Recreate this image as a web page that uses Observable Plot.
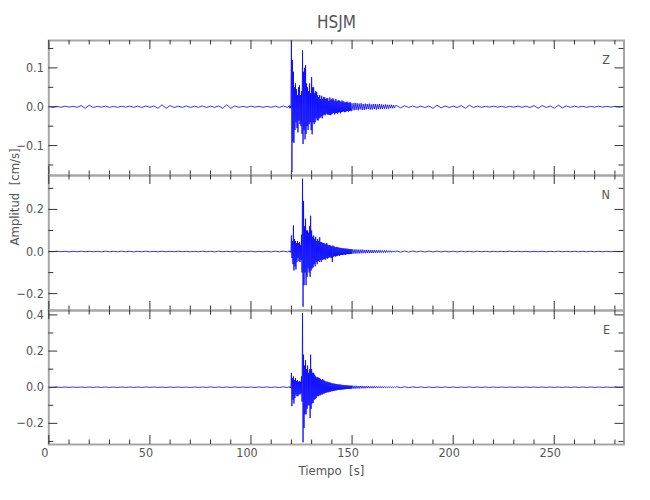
<!DOCTYPE html>
<html>
<head>
<meta charset="utf-8">
<script src="https://cdn.jsdelivr.net/npm/d3@7"></script>
<script src="https://cdn.jsdelivr.net/npm/@observablehq/plot@0.6"></script>
<style>
  html, body { margin: 0; padding: 0; background: #fff; }
  #chart { position: relative; width: 650px; height: 500px; overflow: hidden; }
  #chart svg { position: absolute; left: 0; top: 0; }
</style>
</head>
<body>
<div id="chart"></div>
<script>
// ---- Data (cm/s) ----
const stationName = "HSJM";
const componentNames = ["Z", "N", "E"];
// sampling of the traces (s)
const preTimes = d3.range(0, 119, 2);                 // 0 .. 118
const strongTimes = d3.range(119, 150, 0.25);         // 119 .. 149.75
const codaTimes = d3.range(150, 172, 0.5);            // 150 .. 171.5
const postTimes = d3.range(172, 285, 2);              // 172 .. 284

const zPre = [
  0.0015, -0.002, 0.001, -0.0015, 0.0015, -0.001, 0.001, -0.0015, 0.003, -0.004,
  0.004, -0.002, 0.001, -0.001, 0.0015, -0.0015, 0.001, -0.0015, 0.001, -0.001,
  0.0015, -0.0015, 0.0015, -0.002, 0.002, -0.0015, 0.002, -0.004, 0.005, -0.004,
  0.003, -0.002, 0.0015, -0.0015, 0.002, -0.002, 0.0015, -0.0015, 0.002, -0.002,
  0.0015, -0.0015, 0.002, -0.004, 0.005, -0.004, 0.002, -0.0015, 0.001, -0.0015,
  0.0015, -0.001, 0.001, -0.0015, 0.001, -0.0015, 0.0015, -0.002, 0.002, -0.002
];
const zStrong = [
  0.003, -0.004, 0.002, -0.003,   0.17, -0.168, 0.12, -0.09,   0.09, -0.093, 0.05, -0.06,
  0.06, -0.04, 0.045, -0.055,     0.03, -0.066, 0.05, -0.035,   0.055, -0.045, 0.03, -0.05,
  0.04, -0.07, 0.145, -0.096,     0.09, -0.06, 0.1, -0.084,     0.107, -0.07, 0.06, -0.05,
  0.05, -0.06, 0.04, -0.045,      0.06, -0.04, 0.035, -0.06,    0.076, -0.071, 0.05, -0.04,
  0.05, -0.045, 0.035, -0.04,     0.04, -0.03, 0.038, -0.035,   0.03, -0.035, 0.025, -0.03,
  0.03, -0.028, 0.02, -0.025,     0.028, -0.03, 0.02, -0.022,   0.025, -0.02, 0.024, -0.022,
  0.02, -0.018, 0.022, -0.02,     0.022, -0.02, 0.015, -0.021,  0.024, -0.022, 0.018, -0.02,
  0.02, -0.018, 0.022, -0.016,    0.018, -0.02, 0.015, -0.017,  0.02, -0.016, 0.014, -0.018,
  0.016, -0.015, 0.017, -0.014,   0.015, -0.017, 0.012, -0.014, 0.016, -0.013, 0.014, -0.012,
  0.013, -0.014, 0.011, -0.013,   0.012, -0.012, 0.013, -0.011, 0.011, -0.013, 0.01, -0.011,
  0.012, -0.01, 0.009, -0.011
];
const zCoda = [
  -0.01, 0.009, -0.009, 0.01, -0.008, 0.009, -0.009, 0.008, -0.007, 0.009,
  -0.008, 0.007, -0.008, 0.008, -0.007, 0.007, -0.006, 0.008, -0.007, 0.006,
  -0.007, 0.007, -0.006, 0.007, -0.007, 0.006, -0.006, 0.007, -0.006, 0.006,
  -0.006, 0.005, -0.005, 0.006, -0.005, 0.005, -0.005, 0.005, -0.004, 0.005,
  -0.004, 0.004, -0.003, 0.003
];
const zPost = [
  0.003, -0.003, 0.0025, -0.002, 0.002, -0.002, 0.0015, -0.002, 0.002, -0.004,
  0.004, -0.003, 0.002, -0.002, 0.0015, -0.002, 0.003, -0.004, 0.004, -0.002,
  0.0015, -0.0015, 0.001, -0.001, 0.0015, -0.001, 0.001, -0.0015, 0.001, -0.001,
  0.0015, -0.0015, 0.0015, -0.002, 0.003, -0.004, 0.003, -0.002, 0.002, -0.004,
  0.004, -0.003, 0.002, -0.0015, 0.0015, -0.001, 0.001, -0.0015, 0.001, -0.001,
  0.0015, -0.001, 0.001, -0.001, 0.001, -0.001, 0.001
];

const nPre = [
  0.001, -0.001, 0.0015, -0.001, 0.001, -0.0015, 0.001, -0.001, 0.0015, -0.001,
  0.001, -0.001, 0.001, -0.0015, 0.0015, -0.001, 0.001, -0.001, 0.0015, -0.001,
  0.001, -0.0015, 0.001, -0.001, 0.0015, -0.0015, 0.001, -0.0015, 0.0015, -0.001,
  0.001, -0.001, 0.0015, -0.001, 0.001, -0.0015, 0.001, -0.001, 0.0015, -0.001,
  0.001, -0.0015, 0.0015, -0.001, 0.001, -0.001, 0.0015, -0.0015, 0.001, -0.001,
  0.0015, -0.0015, 0.001, -0.0015, 0.0015, -0.002, 0.002, -0.0015, 0.002, -0.002
];
const nStrong = [
  0.003, -0.003, 0.002, -0.004,   0.076, -0.03, 0.05, -0.06,    0.124, -0.09, 0.06, -0.07,
  0.05, -0.085, 0.04, -0.05,      0.05, -0.03, 0.04, -0.045,    0.045, -0.05, 0.03, -0.04,
  0.08, -0.1, 0.346, -0.262,      0.24, -0.16, 0.12, -0.1,      0.156, -0.16, 0.1, -0.12,
  0.1, -0.08, 0.09, -0.1,         0.12, -0.12, 0.17, -0.09,     0.1, -0.08, 0.07, -0.075,
  0.076, -0.06, 0.06, -0.07,      0.07, -0.05, 0.05, -0.06,     0.06, -0.045, 0.05, -0.05,
  0.068, -0.04, 0.045, -0.05,     0.045, -0.04, 0.04, -0.038,   0.04, -0.035, 0.038, -0.04,
  0.035, -0.03, 0.04, -0.035,     0.032, -0.03, 0.03, -0.028,   0.03, -0.028, 0.028, -0.03,
  0.025, -0.05, 0.028, -0.025,    0.025, -0.022, 0.022, -0.024, 0.02, -0.022, 0.022, -0.02,
  0.02, -0.018, 0.018, -0.02,     0.018, -0.017, 0.017, -0.016, 0.016, -0.016, 0.015, -0.015,
  0.015, -0.014, 0.014, -0.015,   0.014, -0.013, 0.013, -0.012, 0.013, -0.012, 0.012, -0.012,
  0.012, -0.011, 0.011, -0.011
];
const nCoda = [
  0.011, -0.01, 0.01, -0.01, 0.01, -0.009, 0.009, -0.009, 0.009, -0.008,
  0.009, -0.008, 0.008, -0.008, 0.008, -0.007, 0.008, -0.007, 0.007, -0.007,
  0.007, -0.007, 0.007, -0.006, 0.006, -0.006, 0.006, -0.006, 0.006, -0.005,
  0.005, -0.005, 0.005, -0.005, 0.005, -0.004, 0.004, -0.004, 0.004, -0.004,
  0.003, -0.003, 0.003, -0.003
];
const nPost = [
  0.003, -0.003, 0.0025, -0.003, 0.0025, -0.002, 0.002, -0.002, 0.002, -0.002,
  0.002, -0.002, 0.0015, -0.0015, 0.0015, -0.0015, 0.0015, -0.0015, 0.001, -0.0015,
  0.0015, -0.001, 0.001, -0.0015, 0.001, -0.001, 0.001, -0.001, 0.0015, -0.001,
  0.001, -0.001, 0.001, -0.0015, 0.001, -0.001, 0.001, -0.001, 0.001, -0.001,
  0.0015, -0.001, 0.001, -0.001, 0.001, -0.001, 0.001, -0.001, 0.001, -0.001,
  0.001, -0.001, 0.001, -0.001, 0.001, -0.001, 0.001
];

const ePre = [
  -0.003, -0.0015, 0.001, -0.001, 0.001, -0.001, 0.001, -0.001, 0.001, -0.001,
  0.001, -0.001, 0.0015, -0.001, 0.001, -0.001, 0.001, -0.0015, 0.001, -0.001,
  0.001, -0.001, 0.001, -0.001, 0.0015, -0.001, 0.001, -0.001, 0.001, -0.0015,
  0.001, -0.001, 0.001, -0.001, 0.001, -0.0015, 0.001, -0.001, 0.001, -0.001,
  0.0015, -0.001, 0.001, -0.001, 0.001, -0.001, 0.0015, -0.001, 0.001, -0.001,
  0.001, -0.0015, 0.0015, -0.001, 0.0015, -0.0015, 0.0015, -0.002, 0.002, -0.002
];
const eStrong = [
  0.003, -0.003, 0.002, -0.004,   0.079, -0.105, 0.05, -0.07,   0.06, -0.09, 0.04, -0.06,
  0.05, -0.04, 0.035, -0.05,      0.04, -0.05, 0.03, -0.04,     0.035, -0.04, 0.03, -0.035,
  0.06, -0.08, 0.41, -0.305,      0.18, -0.226, 0.12, -0.15,    0.15, -0.15, 0.1, -0.12,
  0.12, -0.1, 0.08, -0.1,         0.1, -0.17, 0.18, -0.12,      0.1, -0.09, 0.08, -0.087,
  0.079, -0.07, 0.07, -0.065,     0.06, -0.06, 0.055, -0.05,    0.055, -0.05, 0.052, -0.045,
  0.05, -0.045, 0.045, -0.04,     0.04, -0.04, 0.045, -0.035,   0.038, -0.035, 0.035, -0.032,
  0.032, -0.03, 0.03, -0.028,     0.03, -0.028, 0.028, -0.025,  0.026, -0.025, 0.024, -0.022,
  0.022, -0.022, 0.021, -0.02,    0.02, -0.019, 0.019, -0.018,  0.018, -0.017, 0.017, -0.016,
  0.016, -0.015, 0.015, -0.014,   0.015, -0.014, 0.014, -0.013, 0.013, -0.013, 0.012, -0.012,
  0.012, -0.011, 0.011, -0.011,   0.011, -0.01, 0.01, -0.01,    0.01, -0.009, 0.009, -0.009,
  0.009, -0.009, 0.008, -0.008
];
const eCoda = [
  0.009, -0.008, 0.008, -0.008, 0.008, -0.007, 0.007, -0.007, 0.007, -0.006,
  0.007, -0.006, 0.006, -0.006, 0.006, -0.005, 0.006, -0.005, 0.005, -0.005,
  0.005, -0.005, 0.005, -0.004, 0.004, -0.004, 0.004, -0.004, 0.004, -0.004,
  0.004, -0.003, 0.003, -0.003, 0.003, -0.003, 0.003, -0.003, 0.003, -0.003,
  0.002, -0.002, 0.002, -0.002
];
const ePost = [
  0.003, -0.0025, 0.0025, -0.0025, 0.002, -0.002, 0.002, -0.002, 0.0015, -0.002,
  0.0015, -0.0015, 0.0015, -0.0015, 0.0015, -0.0015, 0.001, -0.001, 0.0015, -0.001,
  0.001, -0.001, 0.001, -0.001, 0.001, -0.001, 0.001, -0.001, 0.001, -0.001,
  0.001, -0.001, 0.001, -0.001, 0.001, -0.001, 0.001, -0.001, 0.001, -0.001,
  0.001, -0.001, 0.001, -0.001, 0.001, -0.001, 0.001, -0.001, 0.001, -0.001,
  0.001, -0.001, 0.001, -0.001, 0.001, -0.001, 0.001
];

// axis domains and tick values
const timeDomain = [0, 284.5];
const timeMajorTicks = [0, 50, 100, 150, 200, 250];
const timeMinorTicks = [10, 20, 30, 40, 60, 70, 80, 90, 110, 120, 130, 140, 160, 170, 180, 190, 210, 220, 230, 240, 260, 270, 280];
const zDomain = [-0.177, 0.1705];
const nDomain = [-0.28, 0.361];
const eDomain = [-0.317, 0.4245];
const zMajor = [-0.1, 0.0, 0.1], zMinor = [-0.15, -0.05, 0.05, 0.15];
const nMajor = [-0.2, 0.0, 0.2], nMinor = [-0.1, 0.1, 0.3];
const eMajor = [-0.2, 0.0, 0.2, 0.4], eMinor = [-0.3, -0.1, 0.1, 0.3];

// ---- Build ----
const allTimes = [...preTimes, ...strongTimes, ...codaTimes, ...postTimes];
function rows(...parts) {
  const vals = parts.flat();
  const n = Math.min(vals.length, allTimes.length);
  return d3.range(n).map(i => ({t: allTimes[i], v: vals[i]}));
}
const traces = [
  rows(zPre, zStrong, zCoda, zPost),
  rows(nPre, nStrong, nCoda, nPost),
  rows(ePre, eStrong, eCoda, ePost)
];
const domains = [zDomain, nDomain, eDomain];
const majors = [zMajor, nMajor, eMajor];
const minors = [zMinor, nMinor, eMinor];

const W = 650, H = 500, mL = 48.3, mR = 26.5;
const panelTop = [40, 175, 310], panelBottom = [175, 310, 444];
const font = '"Liberation Sans Narrow", "DejaVu Sans Condensed", "Arial Narrow", sans-serif';
const textColor = "#555";
const tickColor = "#333";
const fmt = d => (d < 0 ? "\u2212" : "") + Math.abs(d).toFixed(1);
const plotW = W - mL - mR;

const chart = document.getElementById("chart");
for (let p = 0; p < 3; p++) {
  const plotH = panelBottom[p] - panelTop[p];
  const marks = [
    Plot.line(traces[p], {x: "t", y: "v", stroke: "#0000ff", strokeWidth: 0.8, clip: true}),
    Plot.frame({stroke: "#a6a6a6", strokeWidth: 2}),
    // y ticks, left & right, inward
    Plot.tickY(majors[p], {y: d => d, insetRight: plotW - 9, stroke: tickColor}),
    Plot.tickY(minors[p], {y: d => d, insetRight: plotW - 5, stroke: tickColor}),
    Plot.tickY(majors[p], {y: d => d, insetLeft: plotW - 9, stroke: tickColor}),
    Plot.tickY(minors[p], {y: d => d, insetLeft: plotW - 5, stroke: tickColor}),
    // x ticks, top & bottom, inward
    Plot.tickX(timeMajorTicks, {x: d => d, insetBottom: plotH - 9, stroke: tickColor}),
    Plot.tickX(timeMinorTicks, {x: d => d, insetBottom: plotH - 4.5, stroke: tickColor}),
    Plot.tickX(timeMajorTicks, {x: d => d, insetTop: plotH - 9, stroke: tickColor}),
    Plot.tickX(timeMinorTicks, {x: d => d, insetTop: plotH - 4.5, stroke: tickColor}),
    // y tick labels
    Plot.text(majors[p], {y: d => d, text: d => fmt(d), frameAnchor: "left", textAnchor: "end", dx: -5, fontSize: 12.5, fill: textColor, fontFamily: font}),
    // component label
    Plot.text([componentNames[p]], {frameAnchor: "top-right", textAnchor: "end", lineAnchor: "top", dx: -14, dy: 15, fontSize: 12.5, fill: textColor, fontFamily: font})
  ];
  if (p === 0) {
    marks.push(Plot.text([stationName], {frameAnchor: "top", lineAnchor: "bottom", dy: -13, fontSize: 17, fill: textColor, fontFamily: font}));
  }
  if (p === 1) {
    marks.push(Plot.text(["Amplitud\u00a0 [cm/s]"], {frameAnchor: "left", rotate: -90, dx: -34, dy: 2.5, fontSize: 13, fill: textColor, fontFamily: font}));
  }
  if (p === 2) {
    marks.push(Plot.text(timeMajorTicks, {x: d => d, text: d => String(d), frameAnchor: "bottom", lineAnchor: "top", dy: 4, dx: -4, fontSize: 12.5, fill: textColor, fontFamily: font}));
    marks.push(Plot.text(["Tiempo\u00a0 [s]"], {frameAnchor: "bottom", lineAnchor: "middle", dy: 26, dx: -5, fontSize: 13, fill: textColor, fontFamily: font}));
  }
  const svg = Plot.plot({
    width: W, height: H,
    marginTop: panelTop[p], marginBottom: H - panelBottom[p],
    marginLeft: mL, marginRight: mR,
    x: {domain: timeDomain, axis: null},
    y: {domain: domains[p], axis: null},
    style: {background: "transparent", fontFamily: font, overflow: "visible"},
    marks
  });
  chart.appendChild(svg);
}
</script>
</body>
</html>
